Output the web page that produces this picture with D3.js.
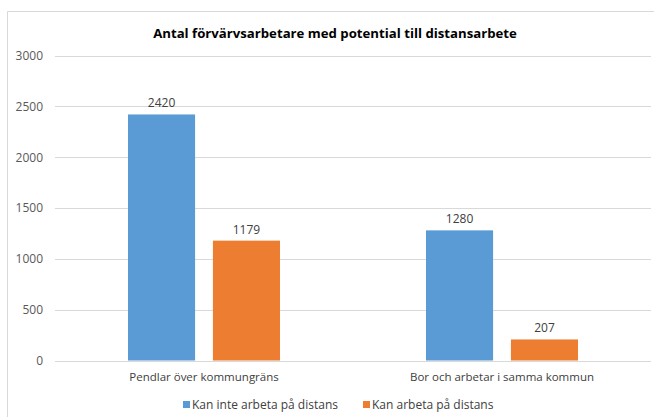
<!DOCTYPE html>
<html>
<head>
<meta charset="utf-8">
<script src="https://cdn.jsdelivr.net/npm/d3@7"></script>
<style>
  html, body { margin: 0; padding: 0; background: #fff; }
  svg { display: block; font-family: "Open Sans", "Liberation Sans", sans-serif; }
</style>
</head>
<body>
<script>
const categories = ["Pendlar över kommungräns", "Bor och arbetar i samma kommun"];
const seriesNames = ["Kan inte arbeta på distans", "Kan arbeta på distans"];
const seriesColors = ["#5B9BD5", "#ED7D31"];
const kanInte = [2420, 1280];
const kanArbeta = [1179, 207];
const yTicks = [0, 500, 1000, 1500, 2000, 2500, 3000];
const title = "Antal förvärvsarbetare med potential till distansarbete";

const W = 654, H = 417;
const svg = d3.select("body").append("svg").attr("width", W).attr("height", H);

// chart border
svg.append("path")
  .attr("d", "M7.5,417 L7.5,11.5 L654,11.5")
  .attr("fill", "none").attr("stroke", "#d9d9d9").attr("stroke-width", 1);

const x0 = d3.scaleBand().domain(categories).range([55, 651]).paddingInner(0).paddingOuter(0);
const x1 = d3.scaleBand().domain(seriesNames).range([73, 225]).paddingInner(0.21).paddingOuter(0);
const y = d3.scaleLinear().domain([0, 3000]).range([360.5, 55.5]);

// gridlines
svg.append("g").selectAll("line").data(yTicks).join("line")
  .attr("x1", 55).attr("x2", 651)
  .attr("y1", d => Math.round(y(d)) + 0.5).attr("y2", d => Math.round(y(d)) + 0.5)
  .attr("stroke", "#d9d9d9").attr("stroke-width", 1);

// y axis labels
const yAxis = d3.axisLeft(y).tickValues(yTicks).tickFormat(d3.format("d")).tickSize(0).tickPadding(0);
const gy = svg.append("g").attr("transform", "translate(43,0)").call(yAxis);
gy.select(".domain").remove();
gy.selectAll("text").attr("fill", "#595959").style("font-size", "12px")
  .style("font-family", "'Open Sans', sans-serif");

// bars
const data = categories.map((c, i) => ({ cat: c, vals: [kanInte[i], kanArbeta[i]] }));
const groups = svg.append("g").selectAll("g").data(data).join("g")
  .attr("transform", d => `translate(${x0(d.cat)},0)`);

groups.selectAll("rect").data(d => d.vals.map((v, j) => ({ v, s: seriesNames[j], j })))
  .join("rect")
  .attr("x", d => x1(d.s))
  .attr("width", x1.bandwidth())
  .attr("y", d => y(d.v))
  .attr("height", d => y(0) - y(d.v))
  .attr("fill", d => seriesColors[d.j]);

groups.selectAll("text").data(d => d.vals.map((v, j) => ({ v, s: seriesNames[j], j })))
  .join("text")
  .attr("x", d => x1(d.s) + x1.bandwidth() / 2)
  .attr("y", d => y(d.v) - 7)
  .attr("text-anchor", "middle")
  .attr("fill", "#404040")
  .style("font-size", "12px")
  .text(d => d.v);

// x axis labels
const xAxis = d3.axisBottom(x0).tickSize(0).tickPadding(0);
const gx = svg.append("g").attr("transform", "translate(0,373)").call(xAxis);
gx.select(".domain").remove();
gx.selectAll("text").attr("fill", "#404040").style("font-size", "11.5px")
  .style("font-family", "'Open Sans', sans-serif");

// title
svg.append("text").attr("x", 335).attr("y", 38).attr("text-anchor", "middle")
  .attr("fill", "#000").style("font-size", "13.2px").style("font-weight", "bold")
  .text(title);

// legend
const legendX = [183, 363];
const lg = svg.append("g").selectAll("g").data(seriesNames).join("g")
  .attr("transform", (d, i) => `translate(${legendX[i]},0)`);
lg.append("rect").attr("x", 0).attr("y", 401).attr("width", 7).attr("height", 7)
  .attr("fill", (d, i) => seriesColors[i]);
lg.append("text").attr("x", 9).attr("y", 409).attr("fill", "#404040")
  .style("font-size", "12px").text(d => d);
</script>
</body>
</html>
